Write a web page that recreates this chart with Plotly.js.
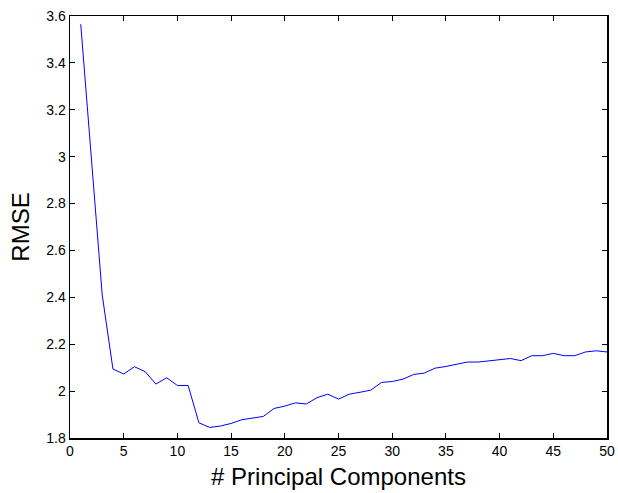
<!DOCTYPE html>
<html>
<head>
<meta charset="utf-8">
<script src="https://cdn.plot.ly/plotly-3.0.1.min.js"></script>
<style>html,body{margin:0;padding:0;background:#fff;}</style>
</head>
<body>
<div id="chart" style="width:618px;height:493px;"></div>
<script>
const components = [1,2,3,4,5,6,7,8,9,10,11,12,13,14,15,16,17,18,19,20,21,22,23,24,25,26,27,28,29,30,31,32,33,34,35,36,37,38,39,40,41,42,43,44,45,46,47,48,49,50];
const rmse = [3.565,2.98,2.41,2.094,2.073,2.104,2.083,2.030,2.057,2.024,2.024,1.865,1.845,1.851,1.862,1.878,1.884,1.892,1.926,1.936,1.950,1.945,1.972,1.987,1.966,1.987,1.995,2.004,2.037,2.041,2.051,2.071,2.077,2.098,2.105,2.114,2.124,2.124,2.130,2.135,2.139,2.130,2.151,2.151,2.161,2.151,2.151,2.167,2.172,2.167];

const axisCommon = {
  showline: true, linecolor: '#000', linewidth: 1.5, mirror: 'ticks',
  ticks: 'inside', ticklen: 5, tickcolor: '#000', tickwidth: 1,
  showgrid: false, zeroline: false,
  tickfont: {family: 'Liberation Sans, Arial, sans-serif', size: 14, color: '#000'}
};

Plotly.newPlot('chart', [{
  x: components, y: rmse, type: 'scatter', mode: 'lines',
  line: {color: '#0000ff', width: 1}
}], {
  width: 618, height: 493,
  margin: {l: 70, r: 11, t: 16, b: 55},
  paper_bgcolor: '#fff', plot_bgcolor: '#fff',
  showlegend: false,
  xaxis: Object.assign({}, axisCommon, {
    range: [0, 50], tickmode: 'linear', tick0: 0, dtick: 5,
    title: {text: '# Principal Components', font: {family: 'Liberation Sans, Arial, sans-serif', size: 24, color: '#000'}, standoff: 10}
  }),
  yaxis: Object.assign({}, axisCommon, {
    range: [1.8, 3.6], tickmode: 'linear', tick0: 1.8, dtick: 0.2,
    title: {text: 'RMSE', font: {family: 'Liberation Sans, Arial, sans-serif', size: 24, color: '#000'}, standoff: 10}
  })
}, {staticPlot: true});
</script>
</body>
</html>
